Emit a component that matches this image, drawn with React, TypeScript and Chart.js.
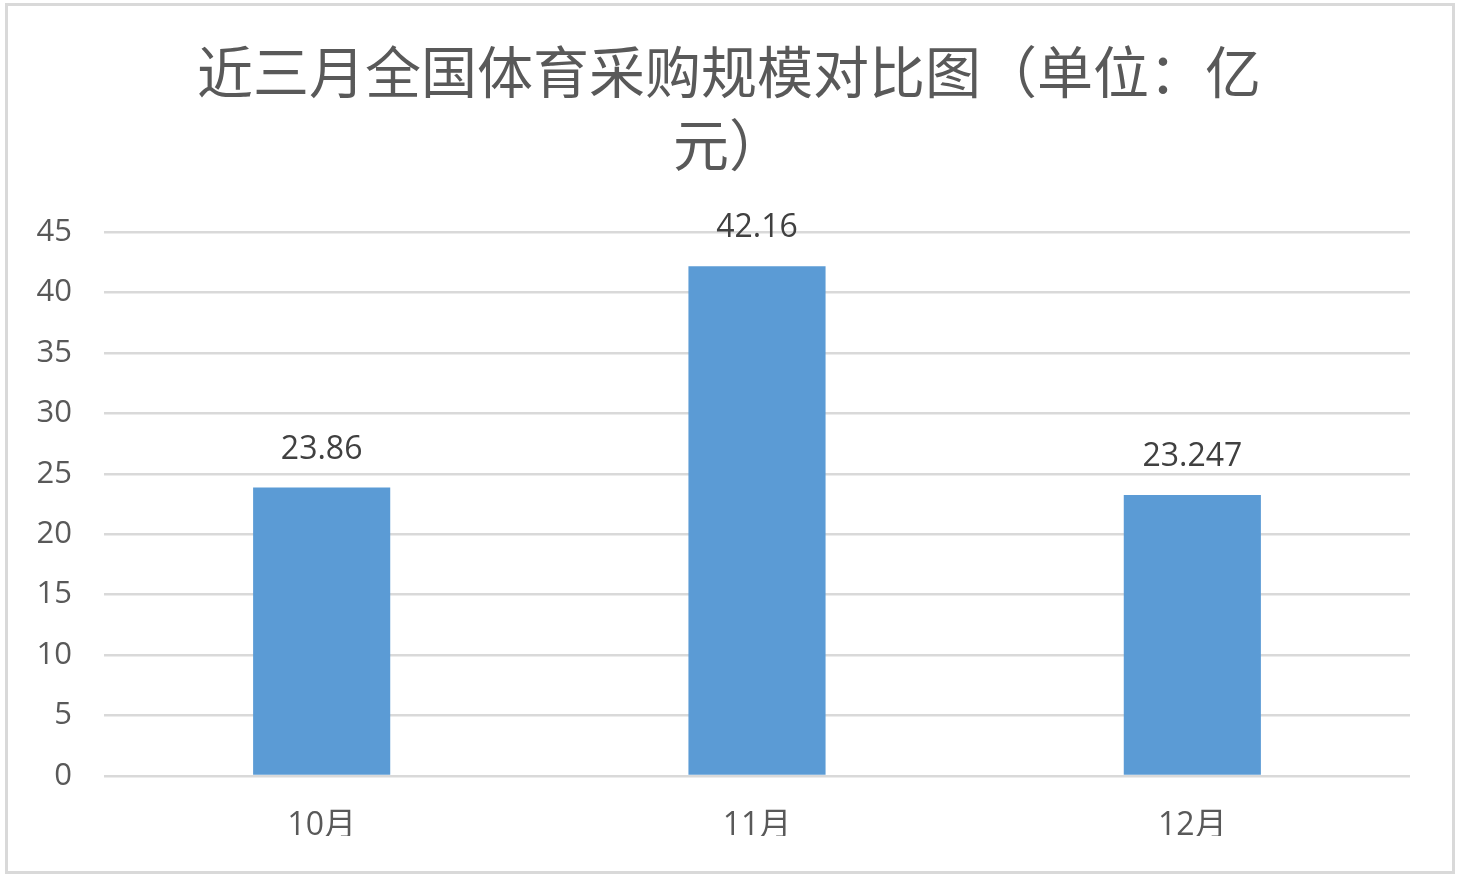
import React, { useEffect, useRef } from "react";
import { Chart, registerables } from "chart.js";

Chart.register(...registerables);

const titleLines = ["近三月全国体育采购规模对比图（单位：亿", "元）"];
const categories = ["10月", "11月", "12月"];
const values = [23.86, 42.16, 23.247];
const yMin = 0;
const yMax = 45;
const yStep = 5;

const FONT = "'Open Sans', 'Noto Sans CJK SC', sans-serif";

const titlePlugin = {
  id: "customTitle",
  afterDraw(chart: any) {
    const ctx = chart.ctx;
    ctx.save();
    ctx.font = `56px 'Noto Sans CJK SC', sans-serif`;
    ctx.fillStyle = "#595959";
    ctx.textAlign = "center";
    ctx.textBaseline = "middle";
    titleLines.forEach((line, i) => {
      ctx.fillText(line, 729, 72 + i * 73);
    });
    ctx.restore();
  },
};

const dataLabelPlugin = {
  id: "dataLabels",
  afterDatasetsDraw(chart: any) {
    const ctx = chart.ctx;
    const meta = chart.getDatasetMeta(0);
    ctx.save();
    ctx.font = `32px ${FONT}`;
    ctx.fillStyle = "#404040";
    ctx.textAlign = "center";
    ctx.textBaseline = "middle";
    meta.data.forEach((el: any, i: number) => {
      ctx.fillText(String(values[i]), el.x, el.y - 38);
    });
    ctx.restore();
  },
};

export default function App() {
  const ref = useRef<HTMLCanvasElement | null>(null);
  useEffect(() => {
    if (!ref.current) return;
    const chart = new Chart(ref.current, {
      type: "bar",
      data: {
        labels: categories,
        datasets: [
          {
            data: values,
            backgroundColor: "#5b9bd5",
            borderWidth: 0,
            barPercentage: 0.315,
            categoryPercentage: 1,
          },
        ],
      },
      options: {
        responsive: false,
        animation: false,
        layout: { padding: { top: 232, left: 0, right: 54, bottom: 45 } },
        plugins: {
          legend: { display: false },
          tooltip: { enabled: false },
          title: { display: false },
        },
        scales: {
          x: {
            grid: { display: false, drawTicks: false },
            border: { display: false },
            ticks: {
              color: "#595959",
              font: { family: FONT, size: 32 },
              padding: 31,
            },
            afterFit(scale: any) {
              scale.height = 60;
            },
          },
          y: {
            min: yMin,
            max: yMax,
            grid: { color: "#d9d9d9", lineWidth: 2.5, drawTicks: false },
            border: { display: false },
            ticks: {
              stepSize: yStep,
              color: "#595959",
              font: { family: FONT, size: 31 },
              padding: 32,
            },
            afterFit(scale: any) {
              scale.width = 104;
            },
          },
        },
      },
      plugins: [titlePlugin, dataLabelPlugin],
    });
    return () => chart.destroy();
  }, []);

  return (
    <div style={{ position: "absolute", left: 0, top: 0, width: 1464, height: 881, background: "#fff" }}>
      <div
        style={{
          position: "absolute",
          left: 5,
          top: 3,
          width: 1450,
          height: 871,
          border: "3px solid #d9d9d9",
          boxSizing: "border-box",
        }}
      />
      <canvas ref={ref} width={1464} height={881} style={{ position: "absolute", left: 0, top: 0, width: 1464, height: 881 }} />
    </div>
  );
}
